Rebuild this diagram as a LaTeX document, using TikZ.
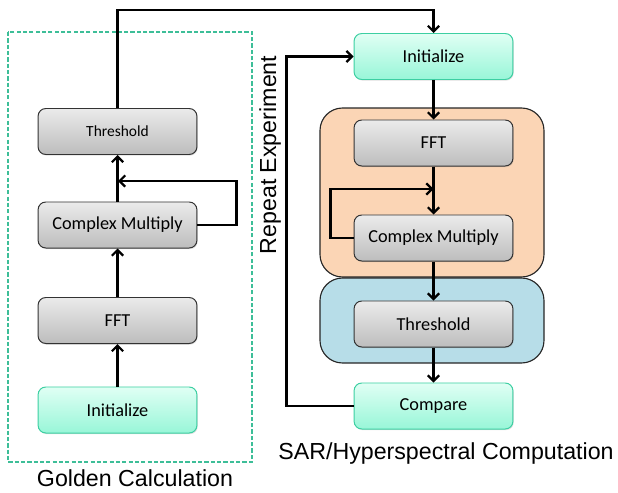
\documentclass[tikz,border=0pt]{standalone}
\usepackage{fontspec}
\setmainfont{Carlito}
\newfontfamily\capfont{Liberation Sans}
\usetikzlibrary{arrows.meta,shadows}

\definecolor{boxgreen}{HTML}{3CCFA2}
\definecolor{greentop}{HTML}{E0FFF4}
\definecolor{greenbot}{HTML}{98F6D8}
\definecolor{peach}{HTML}{FBD5B5}
\definecolor{paleblue}{HTML}{B7DDE8}
\definecolor{goldline}{HTML}{3DBE98}

\tikzset{
	stage/.style={draw=black!80, line width=0.7pt, rounded corners=5.5pt,
		minimum width=3.97cm, minimum height=1.15cm, inner sep=0pt,
		top color=black!8, bottom color=black!26, font=\fontsize{13}{15}\selectfont,
		drop shadow={opacity=0.25, shadow xshift=0.6pt, shadow yshift=-0.8pt}},
	start/.style={stage, draw=boxgreen, top color=greentop, bottom color=greenbot},
	caption/.style={font=\capfont\fontsize{16.5}{19}\selectfont},
	flow/.style={line width=1.6pt, -{Straight Barb[length=4pt,width=8pt,line width=1.6pt]}},
	group/.style={draw=black!85, line width=0.8pt, rounded corners=16pt}
}

\begin{document}
\begin{tikzpicture}[x=0.025cm,y=-0.025cm]
	\useasboundingbox (0,0) rectangle (618,493);

	% golden side
	\draw[goldline, line width=0.8pt, dash pattern=on 3pt off 1.5pt] (8,32) rectangle (252,462);
	\node[start] (initL) at (117.5,410) {Initialize};
	\node[stage] (fftL) at (117.5,320.5) {FFT};
	\node[stage] (cmulL) at (117.5,225) {Complex Multiply};
	\node[stage, font=\fontsize{11}{13}\selectfont] (thrL) at (117.5,131.5) {Threshold};
	\node[caption] (goldL) at (135,478) {Golden Calculation};

	% experiment side
	\draw[group, fill=peach] (320,108) rectangle (544,277);
	\draw[group, fill=paleblue] (320,278) rectangle (544,363);
	\node[start] (initR) at (433.5,56.5) {Initialize};
	\node[stage] (fftR) at (433.5,143) {FFT};
	\node[stage] (cmulR) at (433.5,238) {Complex Multiply};
	\node[stage] (thrR) at (433.5,324) {Threshold};
	\node[start] (cmpR) at (433.5,406) {Compare};
	\node[caption] (sarR) at (446,453) {SAR/Hyperspectral Computation};
	\node[caption, rotate=90] (repR) at (270,155) {Repeat Experiment};

	\coordinate (loopL) at (118,181);
	\coordinate (loopR) at (433.5,189);

	\draw[flow] (initL) -- (fftL);
	\draw[flow] (fftL) -- (cmulL);
	\draw[flow] (cmulL) -- (thrL);
	\draw[flow] (cmulL.east) -- ++(39,0) |- (loopL);
	\draw[flow] (thrL.north) -- ++(0,-98) -| (initR.north);

	\draw[flow] (initR) -- (fftR);
	\draw[flow] (fftR) -- (cmulR);
	\draw[flow] (cmulR.west) -- ++(-23,0) |- (loopR);
	\draw[flow] (cmulR) -- (thrR);
	\draw[flow] (thrR) -- (cmpR);
	\draw[flow] (cmpR.west) -- ++(-67,0) |- (initR.west);
\end{tikzpicture}
\end{document}
